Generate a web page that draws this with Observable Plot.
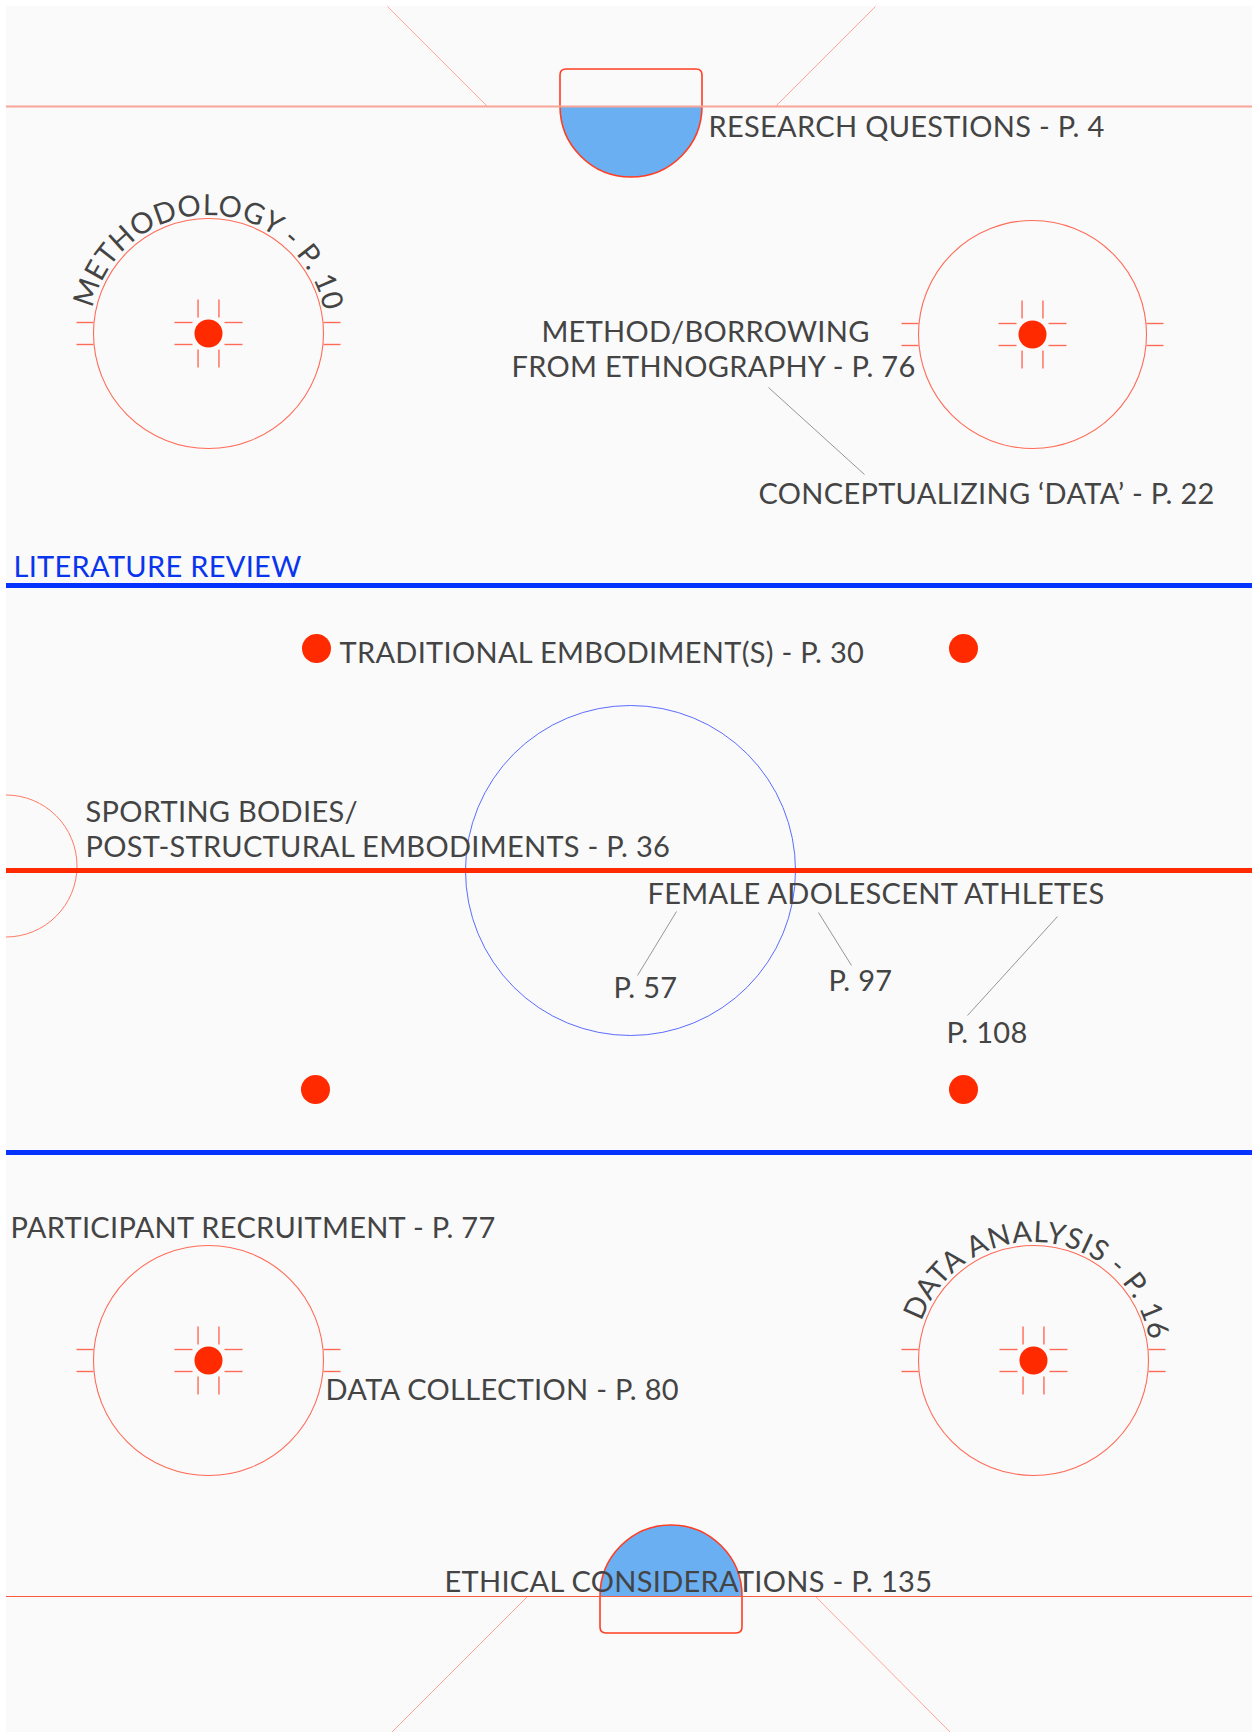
<!DOCTYPE html>
<html>
<head>
<meta charset="utf-8">
<script src="https://cdn.jsdelivr.net/npm/d3@7"></script>
<script src="https://cdn.jsdelivr.net/npm/@observablehq/plot@0.6"></script>
<style>
  html, body { margin: 0; padding: 0; background: #ffffff; overflow: hidden; }
  #chart svg { display: block; }
  #chart svg text { letter-spacing: 0.3px; }
</style>
</head>
<body>
<div id="chart"></div>
<script>
// ---- Rink geometry (rink units) ----
const rinkBounds = [{x1: 6, y1: 6, x2: 1252, y2: 1732}];
const goalLines = [{y: 106, end: "top"}, {y: 1596, end: "bottom"}];
const blueLines = [585, 1152];
const centreRedLine = [870];
const creases = [
  {x: 631, goal: 106, r: 71, depth: 37, side: 1},
  {x: 671, goal: 1596, r: 71, depth: 37, side: -1}
];
const trapezoidLines = [
  {x1: 387, y1: 6, x2: 487, y2: 106},
  {x1: 875, y1: 6, x2: 775, y2: 106},
  {x1: 527, y1: 1596, x2: 391, y2: 1732},
  {x1: 815, y1: 1596, x2: 950, y2: 1732}
];
const faceoffCircles = [
  {x: 208, y: 333, r: 115},
  {x: 1032, y: 334, r: 114},
  {x: 208, y: 1360, r: 115},
  {x: 1033, y: 1360, r: 115}
];
const neutralSpots = [
  {x: 316, y: 648}, {x: 963, y: 648},
  {x: 315, y: 1089}, {x: 963, y: 1089}
];
const centreCircle = [{x: 630, y: 870, r: 165}];
const refereeCrease = [{x: 6, y: 866, r: 71}];

// ---- Table of contents ----
const sectionTitles = ["LITERATURE REVIEW"];
const labelTexts = [
  "RESEARCH QUESTIONS - P. 4",
  "METHOD/BORROWING",
  "FROM ETHNOGRAPHY - P. 76",
  "CONCEPTUALIZING \u2018DATA\u2019 - P. 22",
  "TRADITIONAL EMBODIMENT(S) - P. 30",
  "SPORTING BODIES/",
  "POST-STRUCTURAL EMBODIMENTS - P. 36",
  "FEMALE ADOLESCENT ATHLETES",
  "P. 57",
  "P. 97",
  "P. 108",
  "PARTICIPANT RECRUITMENT - P. 77",
  "DATA COLLECTION - P. 80",
  "ETHICAL CONSIDERATIONS - P. 135"
];
const labelAnchors = [
  [708, 136, "start"],
  [705, 341, "middle"],
  [713, 376, "middle"],
  [758, 503, "start"],
  [339, 662, "start"],
  [85, 821, "start"],
  [85, 856, "start"],
  [647, 903, "start"],
  [613, 997, "start"],
  [828, 990, "start"],
  [946, 1042, "start"],
  [10, 1237, "start"],
  [325, 1399, "start"],
  [444, 1591, "start"]
];
const sectionAnchors = [[13, 576]];
const arcLabelTexts = ["METHODOLOGY - P. 10", "DATA ANALYSIS - P. 16"];
const arcLabelCircles = [0, 3];               // index into faceoffCircles
const arcLabelSpans = [[-78, 81], [-71, 82]]; // degrees clockwise from top
const leaderLines = [
  {x1: 768, y1: 387, x2: 864, y2: 474},
  {x1: 676, y1: 911, x2: 637, y2: 975},
  {x1: 818, y1: 912, x2: 851, y2: 965},
  {x1: 1057, y1: 916, x2: 967, y2: 1015}
];

// ---- derived tables ----
const labels = labelTexts.map((t, i) => ({text: t, x: labelAnchors[i][0], y: labelAnchors[i][1], anchor: labelAnchors[i][2]}));
const sections = sectionTitles.map((t, i) => ({text: t, x: sectionAnchors[i][0], y: sectionAnchors[i][1]}));
const arcLabels = arcLabelTexts.map((t, i) => {
  const c = faceoffCircles[arcLabelCircles[i]];
  return {text: t, cx: c.x, cy: c.y, r: c.r + 3, a0: arcLabelSpans[i][0], a1: arcLabelSpans[i][1]};
});
const faceoffSpots = faceoffCircles.map(c => ({x: c.x, y: c.y}));
const hash = {gap: 11, inner: 16, outer: 34, tick: 17};
const hashMarks = [];
for (const c of faceoffCircles) {
  for (const sy of [-1, 1]) for (const sx of [-1, 1]) {
    hashMarks.push({x1: c.x + sx * hash.inner, x2: c.x + sx * hash.outer, y1: c.y + sy * hash.gap, y2: c.y + sy * hash.gap});
    hashMarks.push({x1: c.x + sx * hash.gap * 0.95, x2: c.x + sx * hash.gap * 0.95, y1: c.y + sy * hash.inner, y2: c.y + sy * hash.outer});
    hashMarks.push({x1: c.x + sx * c.r, x2: c.x + sx * (c.r + hash.tick), y1: c.y + sy * hash.gap, y2: c.y + sy * hash.gap});
  }
}

const RED = "#ff2a00";
const LINE_RED = "#ff6b57";
const TEXT = "#444444";
const FONT = "Lato, 'Open Sans', sans-serif";
const FONT_SIZE = 29;

// ---- custom render helpers (use Plot scales) ----
function creaseMark(rows) {
  return (index, scales) => {
    const g = d3.create("svg:g");
    for (const c of rows) {
      const cx = scales.x(c.x), gy = scales.y(c.goal);
      const r = scales.x(c.x + c.r) - cx;
      const depth = Math.abs(scales.y(c.goal + c.depth) - gy);
      const s = c.side, rc = 6;
      const half = d3.path();
      half.moveTo(cx - r, gy);
      half.arc(cx, gy, r, Math.PI, s > 0 ? 0 : 2 * Math.PI, s > 0);
      half.closePath();
      g.append("path").attr("d", half.toString()).attr("fill", "#6aaff2");
      const top = gy - s * depth;
      const o = d3.path();
      o.moveTo(cx - r, gy);
      o.lineTo(cx - r, top + s * rc);
      o.quadraticCurveTo(cx - r, top, cx - r + rc, top);
      o.lineTo(cx + r - rc, top);
      o.quadraticCurveTo(cx + r, top, cx + r, top + s * rc);
      o.lineTo(cx + r, gy);
      o.arc(cx, gy, r, 0, s > 0 ? Math.PI : -Math.PI, s < 0);
      g.append("path").attr("d", o.toString()).attr("fill", "none").attr("stroke", "#ff3d22").attr("stroke-width", 1.6);
    }
    return g.node();
  };
}

function halfCircleMark(rows) {
  return (index, scales) => {
    const g = d3.create("svg:g");
    for (const c of rows) {
      const cx = scales.x(c.x), cy = scales.y(c.y);
      const r = scales.x(c.x + c.r) - cx;
      const p = d3.path();
      p.arc(cx, cy, r, -Math.PI / 2, Math.PI / 2, false);
      g.append("path").attr("d", p.toString()).attr("fill", "none").attr("stroke", "#ff7a66").attr("stroke-width", 1);
    }
    return g.node();
  };
}

function arcTextMark(rows) {
  return (index, scales) => {
    const g = d3.create("svg:g").attr("text-anchor", "start");
    rows.forEach((d, i) => {
      const cx = scales.x(d.cx), cy = scales.y(d.cy);
      const R = scales.x(d.cx + d.r) - cx;
      const a0 = d.a0 * Math.PI / 180, a1 = d.a1 * Math.PI / 180;
      const p0 = [cx + R * Math.sin(a0), cy - R * Math.cos(a0)];
      const p1 = [cx + R * Math.sin(a1), cy - R * Math.cos(a1)];
      const id = "arc-label-" + i;
      const large = (a1 - a0) > Math.PI ? 1 : 0;
      g.append("path").attr("id", id).attr("fill", "none")
        .attr("d", `M${p0[0]},${p0[1]}A${R},${R} 0 ${large} 1 ${p1[0]},${p1[1]}`);
      g.append("text")
        .attr("class", "arc-label")
        .attr("text-anchor", "start")
        .attr("data-target", R * (a1 - a0))
        .attr("font-family", FONT).attr("font-size", FONT_SIZE).attr("fill", TEXT)
        .append("textPath").attr("href", "#" + id).attr("startOffset", 0)
        .text(d.text);
    });
    return g.node();
  };
}

const chart = Plot.plot({
  width: 1252,
  height: 1732,
  margin: 0,
  x: {domain: [0, 1252], range: [0, 1252], axis: null},
  y: {domain: [0, 1732], range: [0, 1732], axis: null},
  r: {type: "linear", domain: [0, 1], range: [0, 1]},
  style: {background: "#ffffff", fontFamily: FONT},
  marks: [
    Plot.rect(rinkBounds, {x1: "x1", y1: "y1", x2: "x2", y2: "y2", fill: "#fafafa"}),
    Plot.link(trapezoidLines, {x1: "x1", y1: "y1", x2: "x2", y2: "y2", stroke: "#ff8f80", strokeWidth: 0.8}),
    Plot.dot(faceoffCircles, {x: "x", y: "y", r: "r", stroke: LINE_RED, strokeWidth: 1.1, fill: "none"}),
    Plot.link(hashMarks, {x1: "x1", y1: "y1", x2: "x2", y2: "y2", stroke: LINE_RED, strokeWidth: 1.4}),
    Plot.dot(centreCircle, {x: "x", y: "y", r: "r", stroke: "#5b6cff", strokeWidth: 1, fill: "none"}),
    halfCircleMark(refereeCrease),
    Plot.dot(faceoffSpots, {x: "x", y: "y", r: () => 14, fill: RED}),
    Plot.dot(neutralSpots, {x: "x", y: "y", r: () => 14.5, fill: RED}),
    Plot.ruleY(blueLines, {x1: rinkBounds[0].x1, x2: rinkBounds[0].x2, stroke: "#0433ff", strokeWidth: 5}),
    Plot.ruleY(centreRedLine, {x1: rinkBounds[0].x1, x2: rinkBounds[0].x2, stroke: "#ff2a00", strokeWidth: 5}),
    creaseMark(creases),
    Plot.ruleY(goalLines.filter(d => d.end === "top"), {y: "y", x1: rinkBounds[0].x1, x2: rinkBounds[0].x2, stroke: "#f8a597", strokeWidth: 2}),
    Plot.ruleY(goalLines.filter(d => d.end === "bottom"), {y: "y", x1: rinkBounds[0].x1, x2: rinkBounds[0].x2, stroke: "#ff5a3e", strokeWidth: 1.2}),
    Plot.link(leaderLines, {x1: "x1", y1: "y1", x2: "x2", y2: "y2", stroke: "#8a8a8a", strokeWidth: 0.9}),
    Plot.text(labels.filter(d => d.anchor === "start"), {x: "x", y: "y", text: "text", textAnchor: "start", lineAnchor: "bottom", fontSize: FONT_SIZE, fill: TEXT}),
    Plot.text(labels.filter(d => d.anchor === "middle"), {x: "x", y: "y", text: "text", textAnchor: "middle", lineAnchor: "bottom", fontSize: FONT_SIZE, fill: TEXT}),
    Plot.text(sections, {x: "x", y: "y", text: "text", textAnchor: "start", lineAnchor: "bottom", fontSize: FONT_SIZE, fill: "#0a35ee"}),
    arcTextMark(arcLabels)
  ]
});
document.getElementById("chart").appendChild(chart);

// Fit the curved labels to their arcs by adjusting letter spacing.
const svgNS = "http://www.w3.org/2000/svg";
chart.querySelectorAll("text.arc-label").forEach(t => {
  const tmp = document.createElementNS(svgNS, "text");
  tmp.setAttribute("font-family", FONT);
  tmp.setAttribute("font-size", FONT_SIZE);
  tmp.setAttribute("text-anchor", "start");
  tmp.style.letterSpacing = "0px";
  tmp.textContent = t.textContent;
  chart.appendChild(tmp);
  const natural = tmp.getComputedTextLength();
  tmp.remove();
  const n = t.textContent.length;
  const target = +t.getAttribute("data-target") - 4;
  t.style.letterSpacing = Math.max(0, (target - natural) / (n - 1)) + "px";
});
</script>
</body>
</html>
